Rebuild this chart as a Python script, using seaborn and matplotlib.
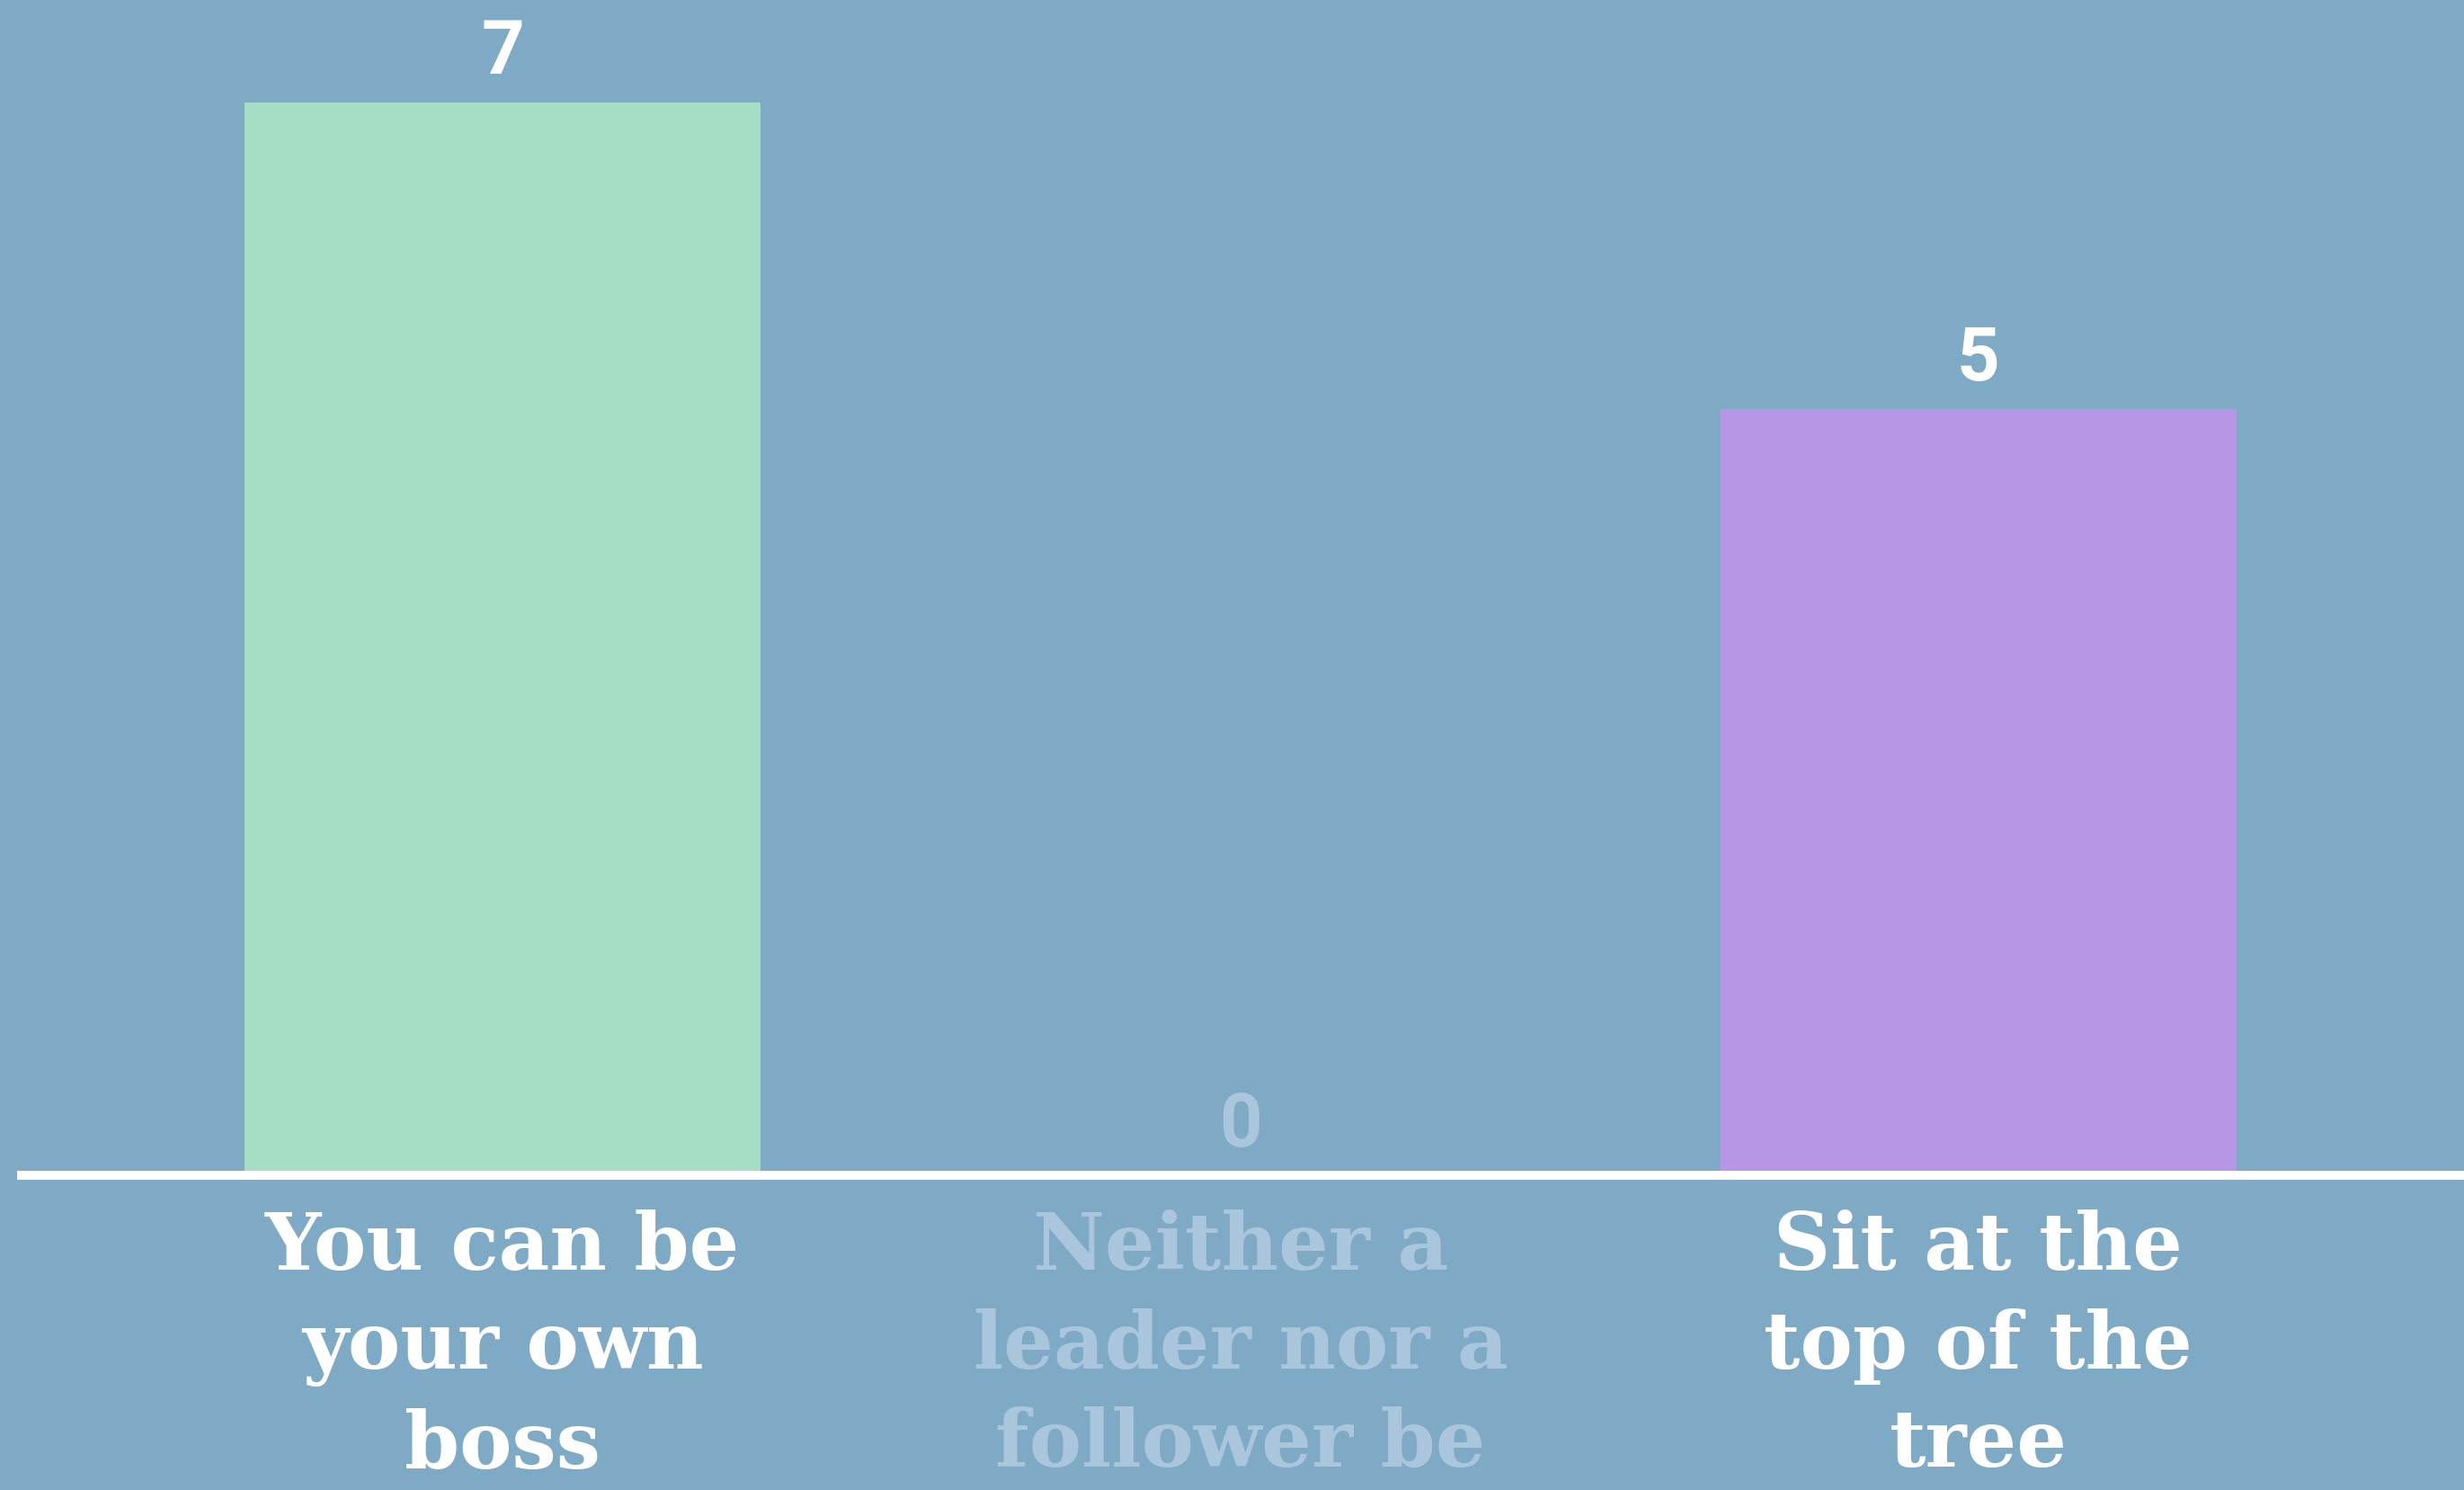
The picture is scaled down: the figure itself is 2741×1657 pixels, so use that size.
#!/usr/bin/env python
# -*- coding: utf-8 -*-
# bar chart of three answers with counts over a blue background
import pandas as pd
import matplotlib.pyplot as plt
import seaborn as sns

answers = ['You can be\nyour own\nboss', 'Neither a\nleader nor a\nfollower be', 'Sit at the\ntop of the\ntree']
votes = [7, 0, 5]
bar_colors = ['#A6DEC5', '#9FC3DA', '#B696E5']
label_colors = ['#FFFFFF', '#A9C6DC', '#FFFFFF']

bg = '#7FAAC6'

sns.set_style('white')

df = pd.DataFrame({'answer': answers, 'votes': votes})

fig = plt.figure(figsize=(27.41, 16.58), dpi=100, facecolor=bg)
base = 1308 / 1658
ax = fig.add_axes([0, 1 - base, 1, base])
ax.set_facecolor(bg)

sns.barplot(data=df, x='answer', y='votes', hue='answer',
            palette=dict(zip(answers, bar_colors)), width=0.7,
            legend=False, ax=ax, saturation=1, linewidth=0, edgecolor='none')

ax.set_xlim(-0.681, 2.658)
ax.set_ylim(0, 7.676)

for s in ['top', 'left', 'right']:
    ax.spines[s].set_visible(False)
ax.spines['bottom'].set_color('white')
ax.spines['bottom'].set_linewidth(7.2)
ax.spines['bottom'].set_bounds(-0.652, 2.658)

ax.set_xlabel('')
ax.set_ylabel('')
ax.set_yticks([])
ax.tick_params(axis='x', length=0, pad=27)
ax.set_xticks(range(len(answers)))
ax.set_xticklabels(answers, fontsize=63, fontweight='bold',
                   family=['DejaVu Serif'], linespacing=1.36)
for t, c in zip(ax.get_xticklabels(), label_colors):
    t.set_color(c)

# value labels above each bar
for i, v in enumerate(votes):
    ax.annotate(str(v), (i, v), xytext=(0, 24), textcoords='offset points',
                ha='center', va='baseline', fontsize=60, fontweight='bold',
                family=['Roboto', 'DejaVu Sans'], color=label_colors[i])

plt.savefig('out.png', dpi=100, facecolor=bg)
